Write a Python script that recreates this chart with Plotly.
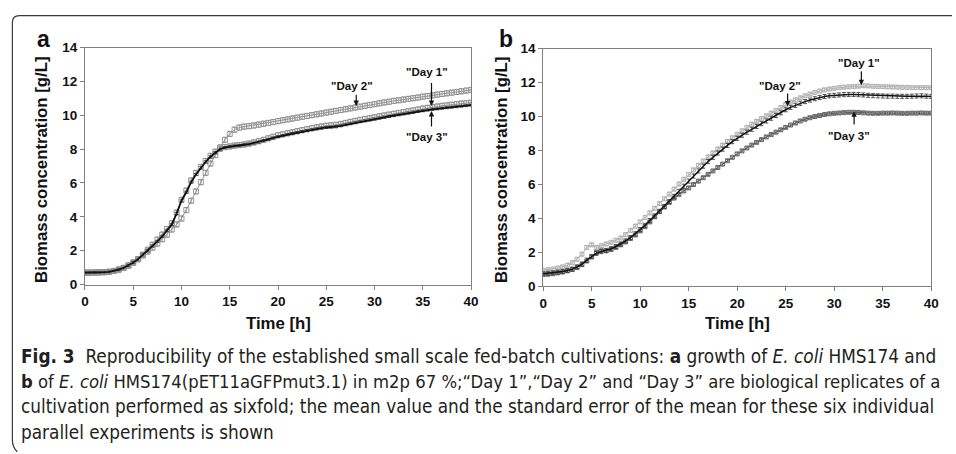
import plotly.graph_objects as go

# ---------------- data ----------------
time_h = [i * 0.5 for i in range(81)]

# Panel a: E. coli HMS174
a_day1 = [0.70, 0.70, 0.71, 0.72, 0.73, 0.75, 0.80, 0.88, 0.98, 1.12,
          1.30, 1.50, 1.76, 2.05, 2.35, 2.65, 2.95, 3.28, 3.62, 4.25,
          5.00, 5.55, 6.15, 6.60, 6.95, 7.30, 7.60, 7.85, 8.02, 8.12,
          8.16, 8.21, 8.24, 8.28, 8.33, 8.40, 8.47, 8.55, 8.64, 8.73,
          8.82, 8.88, 8.94, 9.00, 9.06, 9.12, 9.18, 9.24, 9.29, 9.34,
          9.38, 9.41, 9.44, 9.49, 9.55, 9.61, 9.67, 9.73, 9.78, 9.83,
          9.88, 9.94, 9.99, 10.04, 10.09, 10.14, 10.19, 10.24, 10.29, 10.34,
          10.40, 10.44, 10.48, 10.52, 10.56, 10.59, 10.62, 10.66, 10.69, 10.72,
          10.75]
a_day2 = [0.70, 0.70, 0.71, 0.72, 0.73, 0.75, 0.80, 0.88, 0.98, 1.12,
          1.30, 1.50, 1.72, 1.95, 2.18, 2.42, 2.68, 2.95, 3.25, 3.55,
          3.90, 4.40, 4.95, 5.50, 6.05, 6.60, 7.15, 7.65, 8.10, 8.55,
          8.90, 9.15, 9.28, 9.33, 9.36, 9.40, 9.45, 9.50, 9.55, 9.60,
          9.66, 9.71, 9.76, 9.81, 9.86, 9.91, 9.96, 10.01, 10.06, 10.11,
          10.16, 10.21, 10.26, 10.31, 10.36, 10.41, 10.46, 10.51, 10.56, 10.61,
          10.66, 10.71, 10.76, 10.80, 10.85, 10.89, 10.93, 10.97, 11.01, 11.05,
          11.10, 11.14, 11.18, 11.22, 11.26, 11.30, 11.34, 11.38, 11.42, 11.46,
          11.50]
a_day3 = [0.70, 0.70, 0.71, 0.72, 0.73, 0.75, 0.80, 0.88, 0.98, 1.12,
          1.30, 1.50, 1.75, 2.00, 2.28, 2.55, 2.85, 3.20, 3.55, 4.20,
          4.95, 5.45, 6.05, 6.50, 6.90, 7.25, 7.55, 7.80, 8.00, 8.10,
          8.15, 8.20, 8.22, 8.26, 8.30, 8.36, 8.42, 8.50, 8.58, 8.66,
          8.74, 8.80, 8.86, 8.92, 8.98, 9.04, 9.10, 9.15, 9.20, 9.24,
          9.28, 9.30, 9.32, 9.38, 9.44, 9.50, 9.56, 9.62, 9.67, 9.72,
          9.77, 9.83, 9.88, 9.93, 9.98, 10.03, 10.08, 10.13, 10.18, 10.23,
          10.27, 10.31, 10.35, 10.38, 10.42, 10.45, 10.48, 10.51, 10.54, 10.57,
          10.60]

# Panel b: E. coli HMS174(pET11aGFPmut3.1)
b_day1 = [0.95, 0.98, 1.02, 1.08, 1.15, 1.25, 1.40, 1.60, 1.90, 2.30,
          2.45, 2.30, 2.40, 2.50, 2.60, 2.72, 2.85, 3.05, 3.30, 3.55,
          3.80, 4.06, 4.33, 4.60, 4.88, 5.16, 5.44, 5.73, 6.03, 6.31,
          6.59, 6.86, 7.12, 7.38, 7.62, 7.86, 8.09, 8.32, 8.54, 8.75,
          8.96, 9.16, 9.36, 9.55, 9.72, 9.88, 10.04, 10.20, 10.36, 10.53,
          10.70, 10.85, 10.98, 11.10, 11.22, 11.32, 11.42, 11.50, 11.57, 11.62,
          11.66, 11.70, 11.73, 11.75, 11.77, 11.79, 11.81, 11.80, 11.78, 11.77,
          11.76, 11.75, 11.74, 11.73, 11.72, 11.72, 11.71, 11.70, 11.70, 11.70,
          11.70]
b_day2 = [0.75, 0.78, 0.80, 0.84, 0.88, 0.94, 1.02, 1.15, 1.32, 1.55,
          1.75, 1.95, 2.05, 2.12, 2.22, 2.35, 2.50, 2.68, 2.88, 3.10,
          3.35, 3.60, 3.88, 4.15, 4.42, 4.70, 5.00, 5.30, 5.60, 5.90,
          6.20, 6.50, 6.80, 7.08, 7.35, 7.60, 7.85, 8.08, 8.30, 8.52,
          8.72, 8.90, 9.08, 9.25, 9.42, 9.58, 9.74, 9.90, 10.06, 10.22,
          10.40, 10.54, 10.66, 10.78, 10.88, 10.97, 11.05, 11.12, 11.18, 11.22,
          11.25, 11.27, 11.29, 11.30, 11.30, 11.29, 11.27, 11.25, 11.23, 11.22,
          11.21, 11.20, 11.20, 11.19, 11.19, 11.19, 11.20, 11.21, 11.22, 11.20,
          11.18]
b_day3 = [0.70, 0.72, 0.75, 0.80, 0.85, 0.92, 1.00, 1.12, 1.28, 1.50,
          1.75, 2.00, 2.10, 2.10, 2.18, 2.30, 2.45, 2.62, 2.82, 3.03,
          3.27, 3.52, 3.80, 4.10, 4.40, 4.68, 4.95, 5.20, 5.42, 5.62,
          5.80, 6.00, 6.20, 6.40, 6.60, 6.80, 7.00, 7.20, 7.40, 7.60,
          7.80, 7.98, 8.15, 8.32, 8.48, 8.64, 8.80, 8.94, 9.08, 9.22,
          9.36, 9.50, 9.62, 9.74, 9.84, 9.93, 10.00, 10.06, 10.12, 10.16,
          10.19, 10.21, 10.23, 10.25, 10.25, 10.24, 10.22, 10.20, 10.19, 10.19,
          10.20, 10.20, 10.21, 10.20, 10.19, 10.19, 10.20, 10.20, 10.21, 10.20,
          10.20]

sem_a = {"Day 1": 0.15, "Day 2": 0.15, "Day 3": 0.06}
sem_b = {"Day 1": 0.10, "Day 2": 0.12, "Day 3": 0.07}

x_ticks = [0, 5, 10, 15, 20, 25, 30, 35, 40]
y_ticks = [0, 2, 4, 6, 8, 10, 12, 14]

# label positions (data coords): text (t, v), arrow tail (t, v), arrow tip (t, v)
labels_a = [("\"Day 2\"", 27.7, 11.75, 28.1, 11.3, 28.1, 10.55),
            ("\"Day 1\"", 35.4, 12.55, 35.9, 12.0, 35.9, 10.55),
            ("\"Day 3\"", 35.4, 8.7, 35.9, 9.25, 35.9, 10.25)]
labels_b = [("\"Day 1\"", 32.6, 13.15, 32.8, 12.75, 32.8, 11.85),
            ("\"Day 2\"", 24.4, 11.8, 25.2, 11.45, 25.2, 10.6),
            ("\"Day 3\"", 31.5, 8.85, 32.05, 9.45, 32.05, 10.3)]

caption_lines = [
    "<b>Fig. 3</b>  Reproducibility of the established small scale fed-batch cultivations: <b>a</b> growth of <i>E. coli</i> HMS174 and",
    "<b>b</b> of <i>E. coli</i> HMS174(pET11aGFPmut3.1) in m2p 67 %;\u201cDay 1\u201d,\u201cDay 2\u201d and \u201cDay 3\u201d are biological replicates of a",
    "cultivation performed as sixfold; the mean value and the standard error of the mean for these six individual",
    "parallel experiments is shown",
]

# ---------------- figure ----------------
W, H = 956, 454
fig = go.Figure()

def px_x(p):
    return p / W

def px_y(p):
    return 1 - p / H

def add_series(xref, yref, y, color, sem, marker, lw, lcolor, ecolor, msize=5):
    fig.add_trace(go.Scatter(
        x=time_h, y=y, xaxis=xref, yaxis=yref, mode="lines+markers" if marker else "lines",
        line=dict(color=lcolor, width=lw),
        marker=dict(symbol="square-open", size=msize, color=color, line=dict(width=0.9, color=color)) if marker else None,
        error_y=dict(type="constant", value=sem, color=ecolor, thickness=0.9, width=2),
        showlegend=False, hoverinfo="x+y"))

# Panel a
add_series("x", "y", a_day2, "#909090", sem_a["Day 2"], True, 1, "#909090", "#9a9a9a")
add_series("x", "y", a_day1, "#909090", sem_a["Day 1"], True, 1, "#909090", "#9a9a9a")
add_series("x", "y", a_day3, "#000000", sem_a["Day 3"], False, 1.8, "#111111", "#444444")
# Panel b
add_series("x2", "y2", b_day1, "#b0b0b0", sem_b["Day 1"], True, 1, "#b0b0b0", "#b8b8b8", 4)
add_series("x2", "y2", b_day3, "#5a5a5a", sem_b["Day 3"], True, 1, "#5a5a5a", "#666666", 4)
add_series("x2", "y2", b_day2, "#000000", sem_b["Day 2"], False, 1.5, "#111111", "#444444")

axis_common = dict(showline=True, mirror=True, linecolor="#808080", linewidth=1,
                   ticks="outside", ticklen=4, tickcolor="#808080", showgrid=False,
                   zeroline=False,
                   tickfont=dict(family="Liberation Sans, Arial", size=13.5, color="#111111", weight="bold"))

fig.update_layout(
    width=W, height=H, margin=dict(l=0, r=0, t=0, b=0),
    paper_bgcolor="white", plot_bgcolor="white",
    xaxis=dict(domain=[px_x(82), px_x(473)], range=[0, 40], tickvals=x_ticks, anchor="y", **axis_common),
    yaxis=dict(domain=[px_y(287), px_y(42)], range=[0, 14], tickvals=y_ticks, anchor="x", **axis_common),
    xaxis2=dict(domain=[px_x(546), px_x(939)], range=[0, 40], tickvals=x_ticks, anchor="y2", **axis_common),
    yaxis2=dict(domain=[px_y(289), px_y(43)], range=[0, 14], tickvals=y_ticks, anchor="x2", **axis_common),
)

annots = []
lab_font = dict(family="Liberation Sans, Arial", size=11.5, color="#111111", weight="bold")
for (xr, yr, labs) in (("x", "y", labels_a), ("x2", "y2", labels_b)):
    for (txt, tx, ty, ax0, ay0, ax1, ay1) in labs:
        annots.append(dict(x=tx, y=ty, xref=xr, yref=yr, text=txt, showarrow=False, font=lab_font,
                           xanchor="center", yanchor="middle"))
        annots.append(dict(x=ax1, y=ay1, ax=ax0, ay=ay0, xref=xr, yref=yr, axref=xr, ayref=yr,
                           text="", showarrow=True, arrowhead=2, arrowsize=0.9, arrowwidth=1.2,
                           arrowcolor="#111111"))

title_font = dict(family="Liberation Sans, Arial", size=16.8, color="#111111", weight="bold")
for (cx, cy) in ((38, 168), (504, 168)):
    annots.append(dict(x=px_x(cx), y=px_y(cy), xref="paper", yref="paper", text="Biomass concentration [g/L]",
                       textangle=-90, showarrow=False, font=title_font, xanchor="center", yanchor="middle"))
for cx in (277.5, 742.5):
    annots.append(dict(x=px_x(cx), y=px_y(327), xref="paper", yref="paper", text="Time [h]",
                       showarrow=False, font=title_font, xanchor="center", yanchor="middle"))
for (txt, cx) in (("a", 40), ("b", 508)):
    annots.append(dict(x=px_x(cx), y=px_y(33), xref="paper", yref="paper", text=txt, showarrow=False,
                       xanchor="center", yanchor="middle",
                       font=dict(family="Liberation Sans, Arial", size=23, color="#111111", weight="bold")))

cap_family = "Liberation Sans Narrow, DejaVu Sans Condensed, Arial Narrow, sans-serif"
cap_sizes = [18.85, 18.3, 18.8, 18.8]
for i, line in enumerate(caption_lines):
    annots.append(dict(x=px_x(15), y=px_y(361 + i * 26.3), xref="paper", yref="paper", text=line,
                       xanchor="left", yanchor="middle", showarrow=False, align="left",
                       font=dict(family=cap_family, size=cap_sizes[i], color="#231f20")))

fig.update_layout(annotations=annots)

# figure frame: left and top border with rounded corners
r = 7
x0, y0 = 8.5, 9.0
path = (f"M {px_x(x0 + 5)} {px_y(460)} Q {px_x(x0)} {px_y(455)} {px_x(x0)} {px_y(448)} "
        f"L {px_x(x0)} {px_y(y0 + r)} Q {px_x(x0)} {px_y(y0)} {px_x(x0 + r)} {px_y(y0)} L {px_x(960)} {px_y(y0)}")
fig.add_shape(type="path", path=path, xref="paper", yref="paper", line=dict(color="#3a3a3a", width=1.2))

fig.write_html("out.html")
